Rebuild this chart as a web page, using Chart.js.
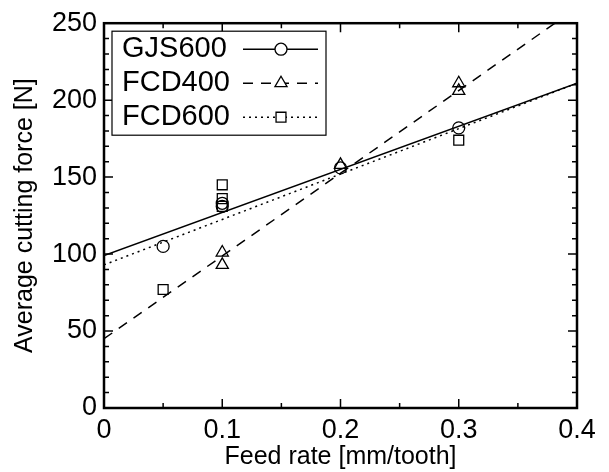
<!DOCTYPE html>
<html>
<head>
<meta charset="utf-8">
<script src="https://cdn.jsdelivr.net/npm/chart.js@4/dist/chart.umd.min.js"></script>
<style>
  html, body { margin: 0; padding: 0; background: #fff; }
  #wrap { width: 609px; height: 472px; }
</style>
</head>
<body>
<div id="wrap"><canvas id="chart" width="609" height="472"></canvas></div>
<script>
// --- data ---
const seriesNames = ['GJS600', 'FCD400', 'FCD600'];

const gjsX = [0.05, 0.1, 0.1, 0.2, 0.3];
const gjsY = [105, 131, 133, 156, 182];
const fcd400X = [0.1, 0.1, 0.2, 0.3, 0.3];
const fcd400Y = [101, 93, 158, 211, 206];
const fcd600X = [0.05, 0.1, 0.1, 0.1, 0.3];
const fcd600Y = [77, 145, 136, 131, 174];

// fitted lines, evaluated at the axis ends
const fitX = [0, 0.4];
const gjsFitY = [99, 211];
const fcd400FitY = [45, 260];
const fcd600FitY = [93, 211];

const xTicks = [0, 0.1, 0.2, 0.3, 0.4];
const yTicks = [0, 50, 100, 150, 200, 250];

const FONT = 'Liberation Sans, Arial, sans-serif';

function pts(xs, ys) {
    return xs.map((x, i) => ({ x: x, y: ys[i] }));
}

const styles = [
    { dash: [], marker: 'circle' },
    { dash: [10, 8], marker: 'triangle' },
    { dash: [2, 4], marker: 'rect' }
];

function lineSet(xs, ys, dash) {
    return {
        type: 'line', data: pts(xs, ys), borderColor: '#000', borderWidth: 1.5,
        borderDash: dash, pointRadius: 0, fill: false, tension: 0
    };
}
function pointSet(xs, ys, marker) {
    return {
        type: 'scatter', data: pts(xs, ys), showLine: false,
        pointStyle: marker, pointRadius: marker === 'circle' ? 6 : 7,
        borderColor: '#000', borderWidth: 1.3, backgroundColor: 'rgba(0,0,0,0)'
    };
}

// inward ticks on all four sides plus the frame
const framePlugin = {
    id: 'frame',
    afterDatasetsDraw(chart) {
        const { ctx, chartArea: a, scales } = chart;
        ctx.save();
        ctx.strokeStyle = '#000';
        ctx.lineWidth = 1.5;
        ctx.beginPath();
        for (let v = 0; v <= 0.4001; v += 0.05) {
            const px = scales.x.getPixelForValue(v);
            const len = Math.abs(Math.round(v * 100) % 10) < 1e-6 ? 9 : 5;
            ctx.moveTo(px, a.bottom); ctx.lineTo(px, a.bottom - len);
            ctx.moveTo(px, a.top); ctx.lineTo(px, a.top + len);
        }
        for (let v = 0; v <= 250; v += 10) {
            const py = scales.y.getPixelForValue(v);
            const len = v % 50 === 0 ? 9 : 5;
            ctx.moveTo(a.left, py); ctx.lineTo(a.left + len, py);
            ctx.moveTo(a.right, py); ctx.lineTo(a.right - len, py);
        }
        ctx.stroke();
        ctx.lineWidth = 2.5;
        ctx.strokeRect(a.left, a.top, a.right - a.left, a.bottom - a.top);
        ctx.restore();
    }
};

// gnuplot style key: name, then line sample with marker
const keyPlugin = {
    id: 'key',
    afterDraw(chart) {
        const { ctx, chartArea: a } = chart;
        const left = a.left + 8, top = a.top + 8, w = 214, rowH = 34;
        ctx.save();
        ctx.fillStyle = '#fff';
        ctx.fillRect(left, top, w, rowH * 3 + 2);
        ctx.strokeStyle = '#000';
        ctx.lineWidth = 1.2;
        ctx.strokeRect(left, top, w, rowH * 3 + 2);
        ctx.font = '29px ' + FONT;
        ctx.textBaseline = 'middle';
        seriesNames.forEach((name, i) => {
            const cy = top + 18 + i * rowH;
            ctx.fillStyle = '#000';
            ctx.fillText(name, left + 10, cy);
            ctx.setLineDash(styles[i].dash);
            ctx.lineWidth = 1.5;
            ctx.beginPath();
            ctx.moveTo(left + 131, cy); ctx.lineTo(left + 206, cy);
            ctx.stroke();
            ctx.setLineDash([]);
            ctx.lineWidth = 1.3;
            ctx.fillStyle = '#fff';
            Chart.helpers.drawPoint(ctx, {
                pointStyle: styles[i].marker, radius: styles[i].marker === 'circle' ? 6 : 7,
                borderWidth: 1.3
            }, left + 169, cy);
        });
        ctx.restore();
    }
};

const fixedSize = {
    y: function (scale) { scale.width = 104; },
    x: function (scale) { scale.height = 64; }
};

new Chart(document.getElementById('chart'), {
    data: {
        datasets: [
            lineSet(fitX, gjsFitY, styles[0].dash),
            lineSet(fitX, fcd400FitY, styles[1].dash),
            lineSet(fitX, fcd600FitY, styles[2].dash),
            pointSet(gjsX, gjsY, styles[0].marker),
            pointSet(fcd400X, fcd400Y, styles[1].marker),
            pointSet(fcd600X, fcd600Y, styles[2].marker)
        ]
    },
    options: {
        responsive: false,
        animation: false,
        layout: { padding: { top: 22, right: 32, left: 0, bottom: 0 } },
        plugins: { legend: { display: false }, tooltip: { enabled: false } },
        scales: {
            x: {
                type: 'linear', min: 0, max: 0.4,
                afterFit: fixedSize.x,
                afterBuildTicks: s => { s.ticks = xTicks.map(v => ({ value: v })); },
                grid: { display: false, drawTicks: false },
                border: { display: false },
                ticks: {
                    color: '#000', padding: 6, maxRotation: 0,
                    font: { family: FONT, size: 27 },
                    callback: v => String(Number(v.toFixed(2)))
                },
                title: {
                    display: true, text: 'Feed rate [mm/tooth]', color: '#000',
                    font: { family: FONT, size: 25 }, padding: { top: 0, bottom: 0 }
                }
            },
            y: {
                type: 'linear', min: 0, max: 250,
                afterFit: fixedSize.y,
                afterBuildTicks: s => { s.ticks = yTicks.map(v => ({ value: v })); },
                grid: { display: false, drawTicks: false },
                border: { display: false },
                ticks: {
                    color: '#000', padding: 7,
                    font: { family: FONT, size: 27 }
                },
                title: {
                    display: true, text: 'Average cutting force [N]', color: '#000',
                    font: { family: FONT, size: 25 }, padding: { top: 10, bottom: 0 }
                }
            }
        }
    },
    plugins: [framePlugin, keyPlugin]
});
</script>
</body>
</html>
